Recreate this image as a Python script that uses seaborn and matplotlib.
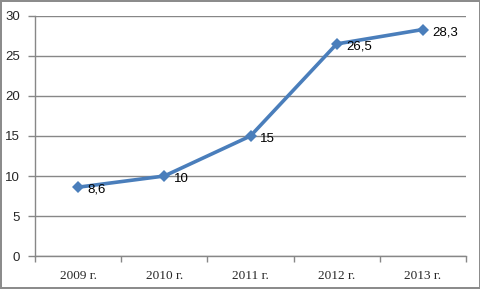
import pandas
import seaborn
from matplotlib import pyplot as plt
from matplotlib import ticker

years = ["2009 г.", "2010 г.", "2011 г.", "2012 г.", "2013 г."]
values = [8.6, 10, 15, 26.5, 28.3]
value_labels = ["8,6", "10", "15", "26,5", "28,3"]
y_ticks = [0, 5, 10, 15, 20, 25, 30]

df = pandas.DataFrame({"year": years, "value": values})

seaborn.set_theme(style="white")
plt.rcParams["font.family"] = ["Liberation Sans", "DejaVu Sans"]

fig = plt.figure(figsize=(4.81, 2.89), dpi=100)
fig.patch.set_edgecolor("#8c8c8c")
fig.patch.set_linewidth(1.5)
ax = fig.add_axes([0.0728, 0.114, 0.896, 0.831])

seaborn.lineplot(
    data=df,
    x="year",
    y="value",
    ax=ax,
    color="#4a7ebb",
    linewidth=2.6,
    marker="D",
    markersize=6,
    markeredgewidth=0,
)

for i, (v, lbl) in enumerate(zip(values, value_labels)):
    ax.annotate(
        lbl,
        (i, v),
        xytext=(7, -2),
        textcoords="offset points",
        va="center",
        ha="left",
        fontsize=9.5,
        color="black",
    )

ax.set_xlim(-0.5, len(years) - 0.5)
ax.set_ylim(0, 30)
ax.set_yticks(y_ticks)
ax.yaxis.set_major_formatter(ticker.FuncFormatter(lambda x, p: format(int(x))))
ax.grid(axis="y", color="#878787", linewidth=1)
ax.set_axisbelow(True)

ax.set_xticks(range(len(years)))
ax.set_xticklabels(years, fontfamily="Liberation Serif", fontsize=9.5)
ax.set_xticks([i - 0.5 for i in range(len(years) + 1)], minor=True)
ax.tick_params(axis="x", which="major", length=0, pad=10)
ax.tick_params(axis="x", which="minor", length=4, color="#878787", width=1, direction="out")
ax.tick_params(axis="y", length=5, color="#878787", width=1, direction="out", labelsize=9.5, pad=6)
ax.xaxis.set_tick_params(bottom=True, which="both")
ax.yaxis.set_tick_params(left=True)

ax.set_xlabel("")
ax.set_ylabel("")
ax.spines[["right", "top"]].set_visible(False)
for s in ["left", "bottom"]:
    ax.spines[s].set_color("#878787")
    ax.spines[s].set_linewidth(1)

fig.savefig("out.png", dpi=100)
